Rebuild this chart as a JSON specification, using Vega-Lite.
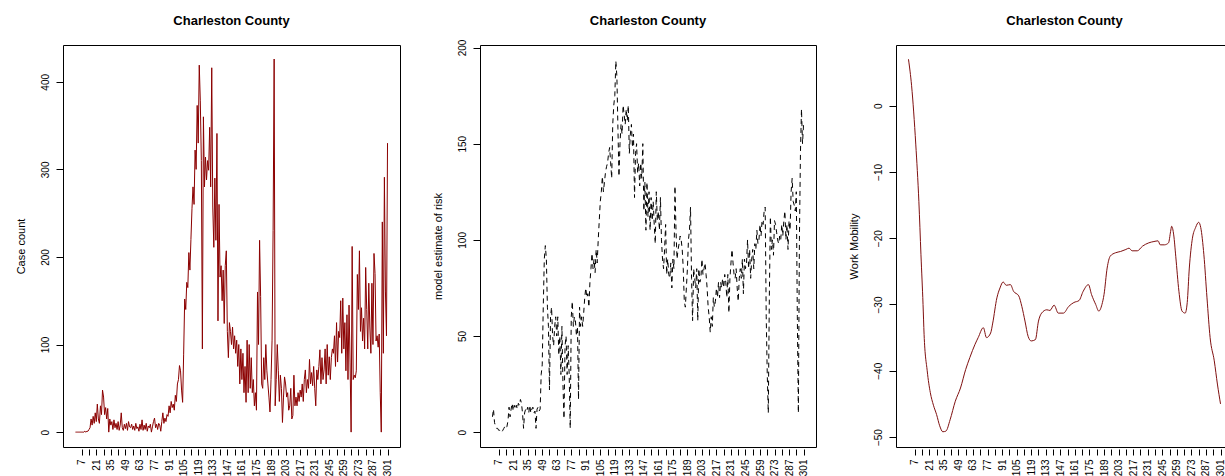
{
"$schema":"https://vega.github.io/schema/vega-lite/v6.json",
"padding":{"left":14,"top":14,"right":0,"bottom":0},
"bounds":"flush",
"spacing":80,
"background":"white",
"config":{
"view":{"stroke":"black","strokeWidth":1},
"axis":{"grid":false,"domain":false,"tickColor":"black","labelColor":"black","titleColor":"black","labelFont":"Liberation Sans","titleFont":"Liberation Sans","labelFontSize":10,"titleFontSize":11,"titleFontWeight":"normal"},
"title":{"font":"Liberation Sans","fontSize":13,"fontWeight":"bold","color":"black","offset":17,"frame":"group"}
},
"datasets":{
"main":[
{"d":1,"c":0,"r":8},{"d":2,"c":0,"r":12},{"d":3,"c":0,"r":5},{"d":4,"c":0,"r":3},{"d":5,"c":0,"r":2},{"d":6,"c":0,"r":2},{"d":7,"c":0,"r":1},{"d":8,"c":0,"r":1},{"d":9,"c":0,"r":0},{"d":10,"c":1,"r":0},
{"d":11,"c":0,"r":1},{"d":12,"c":1,"r":2},{"d":13,"c":1,"r":3},{"d":14,"c":3,"r":2},{"d":15,"c":5,"r":3},{"d":16,"c":15,"r":6},{"d":17,"c":8,"r":13},{"d":18,"c":18,"r":8},{"d":19,"c":10,"r":12},{"d":20,"c":22,"r":15},
{"d":21,"c":12,"r":11},{"d":22,"c":32,"r":14},{"d":23,"c":15,"r":12},{"d":24,"c":10,"r":14},{"d":25,"c":30,"r":12},{"d":26,"c":20,"r":15},{"d":27,"c":48,"r":14},{"d":28,"c":40,"r":17},{"d":29,"c":20,"r":15},{"d":30,"c":28,"r":10},
{"d":31,"c":15,"r":2},{"d":32,"c":27,"r":10},{"d":33,"c":0,"r":12},{"d":34,"c":15,"r":11},{"d":35,"c":8,"r":13},{"d":36,"c":12,"r":10},{"d":37,"c":3,"r":14},{"d":38,"c":14,"r":10},{"d":39,"c":5,"r":12},{"d":40,"c":10,"r":13},
{"d":41,"c":3,"r":10},{"d":42,"c":12,"r":11},{"d":43,"c":2,"r":2},{"d":44,"c":8,"r":12},{"d":45,"c":22,"r":13},{"d":46,"c":5,"r":11},{"d":47,"c":2,"r":12},{"d":48,"c":9,"r":30},{"d":49,"c":4,"r":35},{"d":50,"c":10,"r":65},
{"d":51,"c":2,"r":90},{"d":52,"c":12,"r":97},{"d":53,"c":6,"r":90},{"d":54,"c":5,"r":65},{"d":55,"c":9,"r":55},{"d":56,"c":3,"r":22},{"d":57,"c":7,"r":60},{"d":58,"c":2,"r":65},{"d":59,"c":10,"r":50},{"d":60,"c":4,"r":45},
{"d":61,"c":6,"r":55},{"d":62,"c":1,"r":60},{"d":63,"c":9,"r":50},{"d":64,"c":3,"r":60},{"d":65,"c":14,"r":40},{"d":66,"c":2,"r":50},{"d":67,"c":8,"r":30},{"d":68,"c":3,"r":55},{"d":69,"c":10,"r":25},{"d":70,"c":1,"r":7},
{"d":71,"c":7,"r":45},{"d":72,"c":5,"r":50},{"d":73,"c":9,"r":30},{"d":74,"c":0,"r":45},{"d":75,"c":6,"r":30},{"d":76,"c":12,"r":2},{"d":77,"c":16,"r":60},{"d":78,"c":5,"r":68},{"d":79,"c":9,"r":55},{"d":80,"c":3,"r":60},
{"d":81,"c":10,"r":58},{"d":82,"c":8,"r":50},{"d":83,"c":1,"r":55},{"d":84,"c":12,"r":17},{"d":85,"c":22,"r":65},{"d":86,"c":10,"r":55},{"d":87,"c":16,"r":60},{"d":88,"c":12,"r":55},{"d":89,"c":20,"r":62},{"d":90,"c":18,"r":70},
{"d":91,"c":30,"r":75},{"d":92,"c":22,"r":70},{"d":93,"c":35,"r":72},{"d":94,"c":28,"r":65},{"d":95,"c":32,"r":78},{"d":96,"c":25,"r":85},{"d":97,"c":42,"r":93},{"d":98,"c":35,"r":85},{"d":99,"c":55,"r":90},{"d":100,"c":60,"r":83},
{"d":101,"c":76,"r":95},{"d":102,"c":70,"r":88},{"d":103,"c":48,"r":100},{"d":104,"c":34,"r":110},{"d":105,"c":89,"r":120},{"d":106,"c":152,"r":125},{"d":107,"c":140,"r":133},{"d":108,"c":171,"r":125},{"d":109,"c":165,"r":130},{"d":110,"c":205,"r":135},
{"d":111,"c":185,"r":138},{"d":112,"c":220,"r":140},{"d":113,"c":255,"r":145},{"d":114,"c":280,"r":148},{"d":115,"c":260,"r":140},{"d":116,"c":322,"r":132},{"d":117,"c":300,"r":160},{"d":118,"c":373,"r":170},{"d":119,"c":330,"r":175},{"d":120,"c":419,"r":193},
{"d":121,"c":379,"r":185},{"d":122,"c":310,"r":158},{"d":123,"c":95,"r":133},{"d":124,"c":360,"r":150},{"d":125,"c":280,"r":160},{"d":126,"c":314,"r":155},{"d":127,"c":288,"r":170},{"d":128,"c":310,"r":165},{"d":129,"c":299,"r":160},{"d":130,"c":348,"r":168},
{"d":131,"c":280,"r":162},{"d":132,"c":416,"r":170},{"d":133,"c":257,"r":145},{"d":134,"c":211,"r":155},{"d":135,"c":290,"r":160},{"d":136,"c":219,"r":148},{"d":137,"c":341,"r":155},{"d":138,"c":127,"r":122},{"d":139,"c":260,"r":145},{"d":140,"c":177,"r":150},
{"d":141,"c":190,"r":135},{"d":142,"c":150,"r":140},{"d":143,"c":185,"r":128},{"d":144,"c":124,"r":140},{"d":145,"c":190,"r":132},{"d":146,"c":207,"r":150},{"d":147,"c":115,"r":115},{"d":148,"c":85,"r":130},{"d":149,"c":125,"r":105},{"d":150,"c":115,"r":130},
{"d":151,"c":100,"r":112},{"d":152,"c":120,"r":125},{"d":153,"c":95,"r":105},{"d":154,"c":110,"r":122},{"d":155,"c":90,"r":110},{"d":156,"c":105,"r":120},{"d":157,"c":75,"r":108},{"d":158,"c":100,"r":98},{"d":159,"c":55,"r":125},{"d":160,"c":95,"r":110},
{"d":161,"c":60,"r":115},{"d":162,"c":90,"r":105},{"d":163,"c":45,"r":122},{"d":164,"c":75,"r":100},{"d":165,"c":34,"r":90},{"d":166,"c":105,"r":85},{"d":167,"c":45,"r":95},{"d":168,"c":100,"r":108},{"d":169,"c":50,"r":82},{"d":170,"c":85,"r":90},
{"d":171,"c":45,"r":82},{"d":172,"c":60,"r":80},{"d":173,"c":30,"r":88},{"d":174,"c":45,"r":75},{"d":175,"c":25,"r":90},{"d":176,"c":160,"r":85},{"d":177,"c":100,"r":128},{"d":178,"c":219,"r":105},{"d":179,"c":155,"r":90},{"d":180,"c":55,"r":95},
{"d":181,"c":50,"r":98},{"d":182,"c":85,"r":102},{"d":183,"c":60,"r":100},{"d":184,"c":100,"r":95},{"d":185,"c":70,"r":85},{"d":186,"c":55,"r":68},{"d":187,"c":40,"r":65},{"d":188,"c":23,"r":75},{"d":189,"c":60,"r":85},{"d":190,"c":105,"r":100},
{"d":191,"c":230,"r":105},{"d":192,"c":426,"r":117},{"d":193,"c":30,"r":80},{"d":194,"c":60,"r":58},{"d":195,"c":100,"r":85},{"d":196,"c":70,"r":80},{"d":197,"c":35,"r":75},{"d":198,"c":65,"r":85},{"d":199,"c":50,"r":58},{"d":200,"c":11,"r":85},
{"d":201,"c":40,"r":78},{"d":202,"c":63,"r":80},{"d":203,"c":55,"r":90},{"d":204,"c":40,"r":82},{"d":205,"c":45,"r":85},{"d":206,"c":25,"r":88},{"d":207,"c":30,"r":82},{"d":208,"c":50,"r":75},{"d":209,"c":15,"r":65},{"d":210,"c":19,"r":60},
{"d":211,"c":65,"r":52},{"d":212,"c":30,"r":60},{"d":213,"c":40,"r":55},{"d":214,"c":30,"r":70},{"d":215,"c":45,"r":65},{"d":216,"c":35,"r":68},{"d":217,"c":48,"r":75},{"d":218,"c":40,"r":70},{"d":219,"c":55,"r":78},{"d":220,"c":35,"r":70},
{"d":221,"c":60,"r":78},{"d":222,"c":71,"r":75},{"d":223,"c":45,"r":80},{"d":224,"c":60,"r":75},{"d":225,"c":50,"r":82},{"d":226,"c":83,"r":78},{"d":227,"c":55,"r":70},{"d":228,"c":68,"r":82},{"d":229,"c":53,"r":62},{"d":230,"c":75,"r":80},
{"d":231,"c":50,"r":88},{"d":232,"c":30,"r":95},{"d":233,"c":71,"r":88},{"d":234,"c":60,"r":82},{"d":235,"c":75,"r":80},{"d":236,"c":94,"r":85},{"d":237,"c":55,"r":75},{"d":238,"c":85,"r":68},{"d":239,"c":60,"r":80},{"d":240,"c":71,"r":85},
{"d":241,"c":95,"r":80},{"d":242,"c":55,"r":90},{"d":243,"c":100,"r":72},{"d":244,"c":65,"r":90},{"d":245,"c":86,"r":85},{"d":246,"c":60,"r":88},{"d":247,"c":85,"r":100},{"d":248,"c":95,"r":85},{"d":249,"c":90,"r":95},{"d":250,"c":110,"r":80},
{"d":251,"c":75,"r":90},{"d":252,"c":125,"r":95},{"d":253,"c":80,"r":85},{"d":254,"c":115,"r":98},{"d":255,"c":108,"r":95},{"d":256,"c":150,"r":105},{"d":257,"c":90,"r":98},{"d":258,"c":153,"r":100},{"d":259,"c":95,"r":108},{"d":260,"c":125,"r":102},
{"d":261,"c":70,"r":110},{"d":262,"c":134,"r":108},{"d":263,"c":60,"r":115},{"d":264,"c":145,"r":117},{"d":265,"c":80,"r":60},{"d":266,"c":0,"r":30},{"d":267,"c":212,"r":10},{"d":268,"c":60,"r":70},{"d":269,"c":65,"r":112},{"d":270,"c":62,"r":95},
{"d":271,"c":70,"r":100},{"d":272,"c":180,"r":92},{"d":273,"c":140,"r":110},{"d":274,"c":207,"r":108},{"d":275,"c":115,"r":104},{"d":276,"c":142,"r":100},{"d":277,"c":104,"r":98},{"d":278,"c":130,"r":102},{"d":279,"c":95,"r":100},{"d":280,"c":188,"r":108},
{"d":281,"c":140,"r":102},{"d":282,"c":95,"r":110},{"d":283,"c":170,"r":115},{"d":284,"c":120,"r":100},{"d":285,"c":90,"r":108},{"d":286,"c":170,"r":95},{"d":287,"c":100,"r":110},{"d":288,"c":204,"r":105},{"d":289,"c":181,"r":125},{"d":290,"c":104,"r":132},
{"d":291,"c":110,"r":120},{"d":292,"c":97,"r":118},{"d":293,"c":112,"r":115},{"d":294,"c":45,"r":125},{"d":295,"c":0,"r":60},{"d":296,"c":240,"r":10},{"d":297,"c":90,"r":100},{"d":298,"c":291,"r":145},{"d":299,"c":160,"r":168},{"d":300,"c":110,"r":150},
{"d":301,"c":330,"r":160}
],
"mob":[
{"d":1,"m":7.0},{"d":4,"m":3.0},{"d":8,"m":-5.8},{"d":11,"m":-14.5},{"d":13,"m":-22.5},{"d":15,"m":-30},{"d":16,"m":-34.5},{"d":19,"m":-40},{"d":22,"m":-43.3},{"d":25,"m":-45.2},
{"d":28,"m":-46.6},{"d":31,"m":-48.3},{"d":34,"m":-49.2},{"d":37,"m":-49.1},{"d":41,"m":-47.4},{"d":46,"m":-44.6},{"d":51,"m":-42.6},{"d":56,"m":-39.8},{"d":60,"m":-38},{"d":65,"m":-36},
{"d":68,"m":-35},{"d":73,"m":-33.5},{"d":76,"m":-35},{"d":80,"m":-34.3},{"d":82,"m":-32.8},{"d":86,"m":-29},{"d":89,"m":-27.5},{"d":92,"m":-26.6},{"d":95,"m":-27.1},{"d":99,"m":-27},
{"d":102,"m":-28},{"d":107,"m":-28.7},{"d":110,"m":-30.3},{"d":113,"m":-32.5},{"d":116,"m":-34.8},{"d":119,"m":-35.5},{"d":123,"m":-35.3},{"d":126,"m":-32.5},{"d":129,"m":-31.3},{"d":134,"m":-30.8},
{"d":137,"m":-30.9},{"d":141,"m":-30.1},{"d":145,"m":-31.3},{"d":150,"m":-31.3},{"d":155,"m":-30.3},{"d":160,"m":-29.7},{"d":165,"m":-29.4},{"d":169,"m":-28},{"d":174,"m":-27},{"d":177,"m":-28.5},
{"d":181,"m":-30},{"d":184,"m":-31},{"d":187,"m":-30},{"d":189,"m":-28.5},{"d":192,"m":-24.5},{"d":195,"m":-22.7},{"d":200,"m":-22.2},{"d":205,"m":-22},{"d":210,"m":-21.7},{"d":213,"m":-21.5},
{"d":216,"m":-21.9},{"d":221,"m":-21.9},{"d":226,"m":-21.2},{"d":232,"m":-20.7},{"d":237,"m":-20.5},{"d":241,"m":-20.4},{"d":243,"m":-21},{"d":247,"m":-21},{"d":251,"m":-20.7},{"d":253,"m":-19},
{"d":254,"m":-18.2},{"d":256,"m":-19.5},{"d":258,"m":-22.8},{"d":261,"m":-28},{"d":264,"m":-31},{"d":267,"m":-31.3},{"d":269,"m":-29.7},{"d":271,"m":-24.5},{"d":274,"m":-20},{"d":277,"m":-18.4},
{"d":280,"m":-17.6},{"d":282,"m":-18.4},{"d":285,"m":-22.5},{"d":288,"m":-29},{"d":291,"m":-35},{"d":295,"m":-38.5},{"d":298,"m":-42},{"d":301,"m":-45}
]
},
"hconcat":[
{
"title":"Charleston County",
"width":337,"height":402,
"data":{"name":"main"},
"mark":{"type":"line","color":"#8B0000","strokeWidth":1},
"encoding":{
"x":{"field":"d","type":"quantitative","scale":{"domain":[-11,313],"nice":false,"zero":false},"axis":{"title":null,"values":[7,14,21,28,35,42,49,56,63,70,77,84,91,98,105,112,119,126,133,140,147,154,161,168,175,182,189,196,203,210,217,224,231,238,245,252,259,266,273,280,287,294,301],"labelExpr":"datum.value % 14 == 7 ? datum.label : ''","labelAngle":-90,"labelAlign":"right","labelBaseline":"middle","labelPadding":4,"tickSize":6,"offset":2,"labelOverlap":false,"labelFlush":false}},
"y":{"field":"c","type":"quantitative","scale":{"domain":[-17,442],"nice":false,"zero":false},"axis":{"title":"Case count","values":[0,100,200,300,400],"labelAngle":-90,"labelAlign":"center","labelBaseline":"bottom","tickSize":7,"labelPadding":6,"titlePadding":14,"labelOverlap":false}}
}
},
{
"title":{"text":"Charleston County","offset":11},
"width":336,"height":402,
"data":{"name":"main"},
"mark":{"type":"line","color":"black","strokeWidth":1,"strokeDash":[5,4]},
"encoding":{
"x":{"field":"d","type":"quantitative","scale":{"domain":[-11,313],"nice":false,"zero":false},"axis":{"title":null,"values":[7,14,21,28,35,42,49,56,63,70,77,84,91,98,105,112,119,126,133,140,147,154,161,168,175,182,189,196,203,210,217,224,231,238,245,252,259,266,273,280,287,294,301],"labelExpr":"datum.value % 14 == 7 ? datum.label : ''","labelAngle":-90,"labelAlign":"right","labelBaseline":"middle","labelPadding":4,"tickSize":6,"offset":2,"labelOverlap":false,"labelFlush":false}},
"y":{"field":"r","type":"quantitative","scale":{"domain":[-7.7,201.3],"nice":false,"zero":false},"axis":{"title":"model estimate of risk","values":[0,50,100,150,200],"labelAngle":-90,"labelAlign":"center","labelBaseline":"bottom","tickSize":7,"labelPadding":6,"titlePadding":14,"labelOverlap":false}}
}
},
{
"title":"Charleston County",
"width":337,"height":402,
"data":{"name":"mob"},
"mark":{"type":"line","color":"#7F1010","strokeWidth":1,"interpolate":"monotone"},
"encoding":{
"x":{"field":"d","type":"quantitative","scale":{"domain":[-11,313],"nice":false,"zero":false},"axis":{"title":null,"values":[7,14,21,28,35,42,49,56,63,70,77,84,91,98,105,112,119,126,133,140,147,154,161,168,175,182,189,196,203,210,217,224,231,238,245,252,259,266,273,280,287,294,301],"labelExpr":"datum.value % 14 == 7 ? datum.label : ''","labelAngle":-90,"labelAlign":"right","labelBaseline":"middle","labelPadding":4,"tickSize":6,"offset":2,"labelOverlap":false,"labelFlush":false}},
"y":{"field":"m","type":"quantitative","scale":{"domain":[-51.5,9.15],"nice":false,"zero":false},"axis":{"title":"Work Mobility","values":[-50,-40,-30,-20,-10,0],"labelAngle":-90,"labelAlign":"center","labelBaseline":"bottom","tickSize":7,"labelPadding":6,"titlePadding":14,"labelOverlap":false}}
}
}
]
}
